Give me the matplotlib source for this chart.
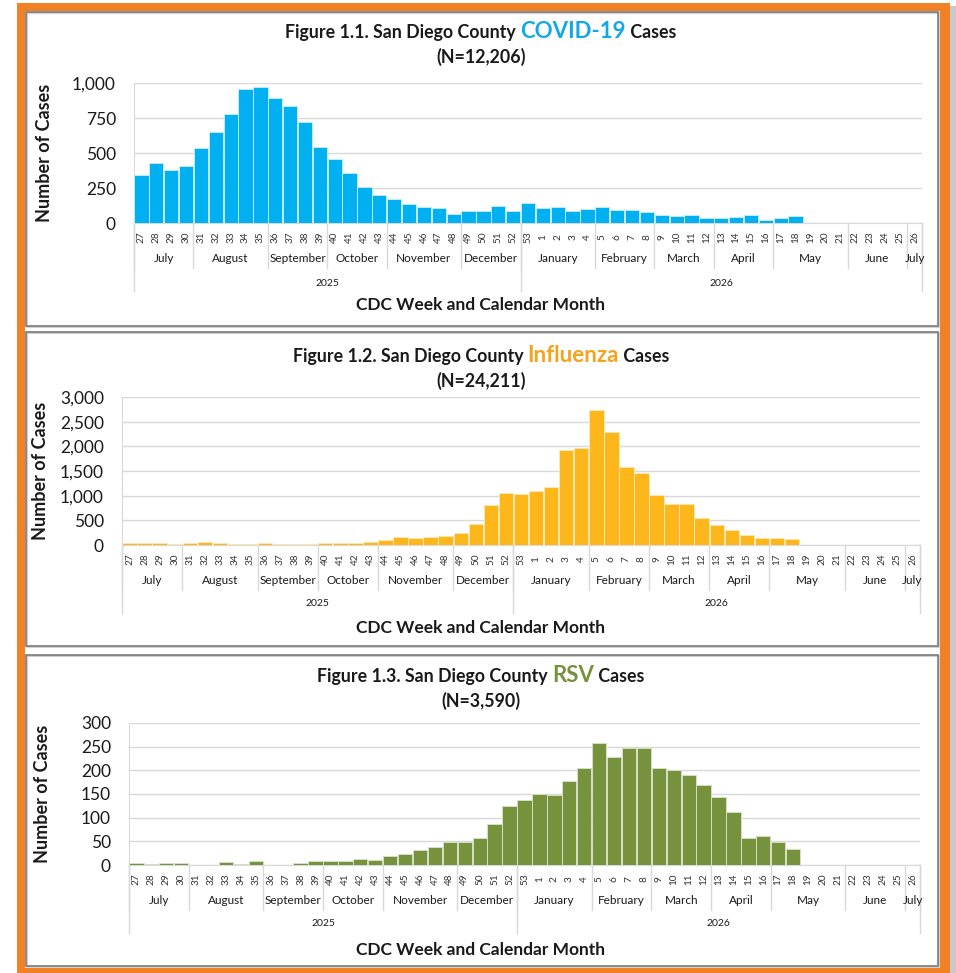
import matplotlib
matplotlib.use('Agg')
import numpy as np
from matplotlib import pyplot as plt
from matplotlib import font_manager
from matplotlib.patches import Rectangle
from matplotlib.transforms import blended_transform_factory

# ---- data ----
weeks = list(range(27, 53)) + [53] + list(range(1, 27))
months = ['July', 'August', 'September', 'October', 'November', 'December',
          'January', 'February', 'March', 'April', 'May', 'June', 'July']
month_sizes = [4, 5, 4, 4, 5, 4, 5, 4, 4, 4, 5, 4, 1]
years = ['2025', '2026']
year_sizes = [26, 27]

covid_cases = [340, 429, 376, 407, 536, 650, 776, 957, 974, 895, 838, 721, 543,
               457, 357, 255, 202, 174, 133, 117, 107, 64, 88, 83, 124, 83,
               140, 105, 112, 86, 98, 117, 93, 90, 76, 60, 50, 55, 38,
               33, 43, 55, 24, 33, 48]
flu_cases = [40, 44, 40, 20, 40, 54, 34, 20, 20, 34, 27, 20, 27,
             40, 40, 34, 54, 94, 155, 142, 162, 175, 243, 431, 809, 1045,
             1038, 1099, 1180, 1921, 1969, 2744, 2292, 1571, 1456, 1018, 836, 822, 539,
             411, 310, 209, 135, 135, 121]
rsv_cases = [4, 2, 4, 4, 1, 0, 6, 3, 8, 1, 0, 5, 8,
             8, 8, 13, 11, 18, 24, 31, 37, 48, 48, 58, 87, 124,
             137, 150, 148, 178, 205, 258, 228, 247, 247, 205, 200, 191, 168,
             143, 112, 56, 61, 48, 33]

W, H = 956, 973

names = {f.name for f in font_manager.fontManager.ttflist}
base_font = 'Liberation Sans Narrow' if 'Liberation Sans Narrow' in names else 'Lato'
plt.rcParams['font.family'] = [base_font, 'DejaVu Sans']
TXT = '#1a1a1a'

fig = plt.figure(figsize=(W / 100, H / 100), dpi=100)
bg = fig.add_axes([0, 0, 1, 1])
bg.set_xlim(0, W)
bg.set_ylim(H, 0)
bg.axis('off')

# orange frame and panels
bg.add_patch(Rectangle((950, 6), 6, 970, color='#c8c8c8', lw=0))
bg.add_patch(Rectangle((17, 3), 933, 975, color='#F28024', lw=0))
bg.add_patch(Rectangle((25, 11), 915, 957, color='white', lw=0))
for top, bot in [(12, 326), (332, 646), (655, 966)]:
    bg.add_patch(Rectangle((27, top + 1), 912, bot - top, fill=False, ec='#d0d0d0', lw=1.5))
    bg.add_patch(Rectangle((26, top), 912, bot - top, fill=False, ec='#7a7a7a', lw=1.2))


def place_title(texts, y, cx=481):
    r = fig.canvas.get_renderer()
    widths = [t.get_window_extent(r).width for t in texts]
    x = cx - sum(widths) / 2
    for t, w in zip(texts, widths):
        t.set_position((x, y))
        x += w


def panel(rect, values, color, edge, ymax, step, rows, ylab_x, fig_no, name, name_color, n_text, ty):
    left, right, top, bottom = rect
    ax = fig.add_axes([left / W, 1 - bottom / H, (right - left) / W, (bottom - top) / H])
    x = np.arange(len(values))
    ax.bar(x, values, width=0.96, color=color, edgecolor=edge, linewidth=0.7, zorder=3)
    ax.set_xlim(-0.5, len(weeks) - 0.5)
    ax.set_ylim(0, ymax)
    ticks = np.arange(0, ymax + 1, step)
    ax.set_yticks(ticks)
    ax.set_yticklabels([f'{v:,}' for v in ticks])
    ax.tick_params(axis='y', length=0, labelsize=12.5, labelcolor=TXT, pad=13)
    ax.set_xticks([])
    ax.grid(axis='y', color='#d9d9d9', lw=1, zorder=0)
    for s in ['top', 'right']:
        ax.spines[s].set_visible(False)
    ax.spines['left'].set_color('#d9d9d9')
    ax.spines['bottom'].set_color('#d9d9d9')
    ax.set_ylabel('Number of Cases', fontsize=13, fontweight='bold', color=TXT)
    ax.yaxis.set_label_coords((ylab_x - left) / (right - left), 0.5)

    tr = blended_transform_factory(ax.transData, bg.transData)
    wk_y, mo_y, yr_y, mo_end, yr_end, xl_y = rows
    for i, w in enumerate(weeks):
        ax.text(i, wk_y, str(w), transform=tr, rotation=90, fontsize=7.2,
                ha='center', va='center', color='#333333')
    pos = -0.5
    for m, n in zip(months, month_sizes):
        ax.text(pos + n / 2, mo_y, m, transform=tr, fontsize=8.5, ha='center',
                va='center', color=TXT)
        ax.plot([pos, pos], [bottom, mo_end], transform=tr, color='#d9d9d9', lw=1, clip_on=False)
        pos += n
    ax.plot([pos, pos], [bottom, mo_end], transform=tr, color='#d9d9d9', lw=1, clip_on=False)
    pos = -0.5
    for yv, n in zip(years, year_sizes):
        ax.text(pos + n / 2, yr_y, yv, transform=tr, fontsize=7.5, ha='center',
                va='center', color=TXT)
        ax.plot([pos, pos], [bottom, yr_end], transform=tr, color='#d9d9d9', lw=1, clip_on=False)
        pos += n
    ax.plot([pos, pos], [bottom, yr_end], transform=tr, color='#d9d9d9', lw=1, clip_on=False)

    bg.text(481, xl_y, 'CDC Week and Calendar Month', fontsize=12.5,
            fontweight='bold', ha='center', va='center', color=TXT)
    parts = [(f'Figure {fig_no}. San Diego County ', TXT, 12.8), (name, name_color, 16), (' Cases', TXT, 12.8)]
    texts = [bg.text(0, ty, s, color=c, fontsize=fs, fontweight='bold', ha='left', va='baseline')
             for s, c, fs in parts]
    place_title(texts, ty)
    bg.text(481, ty + 25, n_text, fontsize=12.8, fontweight='bold', ha='center',
            va='baseline', color=TXT)
    return ax


panel((134, 922, 83, 223), covid_cases, '#00B0F0', '#bfeafc', 1000, 250,
      (237, 259, 283, 268, 291, 305), 53, '1.1', 'COVID-19', '#12A8E8', '(N=12,206)', 38)
panel((122, 920, 397, 545), flu_cases, '#FDB71A', '#fde6b0', 3000, 500,
      (559, 581, 603, 590, 613, 628), 49, '1.2', 'Influenza', '#F6A31C', '(N=24,211)', 362)
panel((129, 920, 723, 865), rsv_cases, '#77923C', '#d5dfc4', 300, 50,
      (879, 901, 923, 910, 933, 950), 51, '1.3', 'RSV', '#77923C', '(N=3,590)', 682)

fig.savefig('out.png', dpi=100)
